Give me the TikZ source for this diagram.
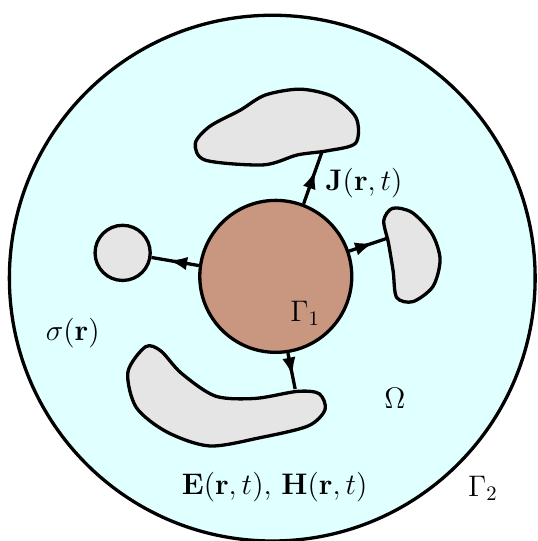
\documentclass[tikz,border=0pt]{standalone}
\usepackage{amsmath}
\usepackage{tikz}
\usetikzlibrary{arrows.meta,decorations.markings}
\definecolor{medium}{RGB}{224,255,255}
\definecolor{copper}{RGB}{201,150,128}
\definecolor{inclusion}{RGB}{229,229,229}
\newcommand{\blobTop}{plot[smooth cycle] coordinates {(-1.31,2.30) (-1.14,2.01) (-0.15,1.93) (0.43,2.10) (0.94,2.17) (1.42,2.30) (1.43,2.73) (1.04,3.09) (0.48,3.22) (-0.12,3.12) (-0.55,2.86) (-1.06,2.59)}}
\newcommand{\blobRight}{plot[smooth cycle] coordinates {(1.90,0.98) (2.05,1.19) (2.38,1.12) (2.72,0.76) (2.86,0.32) (2.74,-0.14) (2.40,-0.40) (2.12,-0.33) (2.06,0.12) (1.98,0.60)}}
\newcommand{\blobLow}{plot[smooth cycle] coordinates {(-2.16,-1.17) (-1.90,-1.24) (-1.55,-1.62) (-0.97,-2.01) (-0.29,-2.05) (0.43,-1.93) (0.80,-1.97) (0.90,-2.24) (0.61,-2.52) (-0.21,-2.72) (-1.07,-2.86) (-1.80,-2.62) (-2.32,-2.20) (-2.46,-1.60)}}
\tikzset{
  outline/.style={draw=black,line width=1.6pt},
  flux/.style={line width=1.6pt,postaction={decorate},
    decoration={markings,mark=at position 0.64 with {\arrow{Latex[length=9pt,width=6.5pt]}}}},
  lbl/.style={font=\fontsize{14.5}{17}\selectfont,inner sep=0pt}
}

\begin{document}
\begin{tikzpicture}
    \useasboundingbox (-4.64,-4.48) rectangle (4.52,4.74);
    % the domain Omega, bounded by Gamma_2
    \draw[outline,fill=medium] (0,0) circle (4.48);
    % conducting inclusions
    \draw[outline,fill=inclusion] \blobTop;
    \draw[outline,fill=inclusion] \blobRight;
    \draw[outline,fill=inclusion] \blobLow;
    \node[outline,circle,fill=inclusion,minimum size=0.94cm,inner sep=0pt] (dot) at (-2.55,0.43) {};
    % source region Gamma_1
    \node[outline,circle,fill=copper,minimum size=2.59cm,inner sep=0pt] (core) at (0.06,0.03) {};
    \coordinate (topEnd) at (0.85,2.16);
    \coordinate (rightEnd) at (1.96,0.68);
    \coordinate (lowEnd) at (0.39,-1.89);
    % currents
    \draw[flux] (core.69) -- (topEnd);
    \draw[flux] (core.172) -- (dot.-9);
    \draw[flux] (core.19) -- (rightEnd);
    \draw[flux] (core.-81) -- (lowEnd);
    % labels
    \node[lbl,anchor=west] (jlab) at (0.90,1.62) {$\mathbf{J}(\mathbf{r},t)$};
    \node[lbl] (g1) at (0.56,-0.60) {$\Gamma_1$};
    \node[lbl] (sig) at (-3.40,-0.94) {$\sigma(\mathbf{r})$};
    \node[lbl] (om) at (2.09,-2.05) {$\Omega$};
    \node[lbl] (fields) at (0.04,-3.56) {$\mathbf{E}(\mathbf{r},t)$, $\mathbf{H}(\mathbf{r},t)$};
    \node[lbl] (g2) at (3.59,-3.58) {$\Gamma_2$};
\end{tikzpicture}
\end{document}
